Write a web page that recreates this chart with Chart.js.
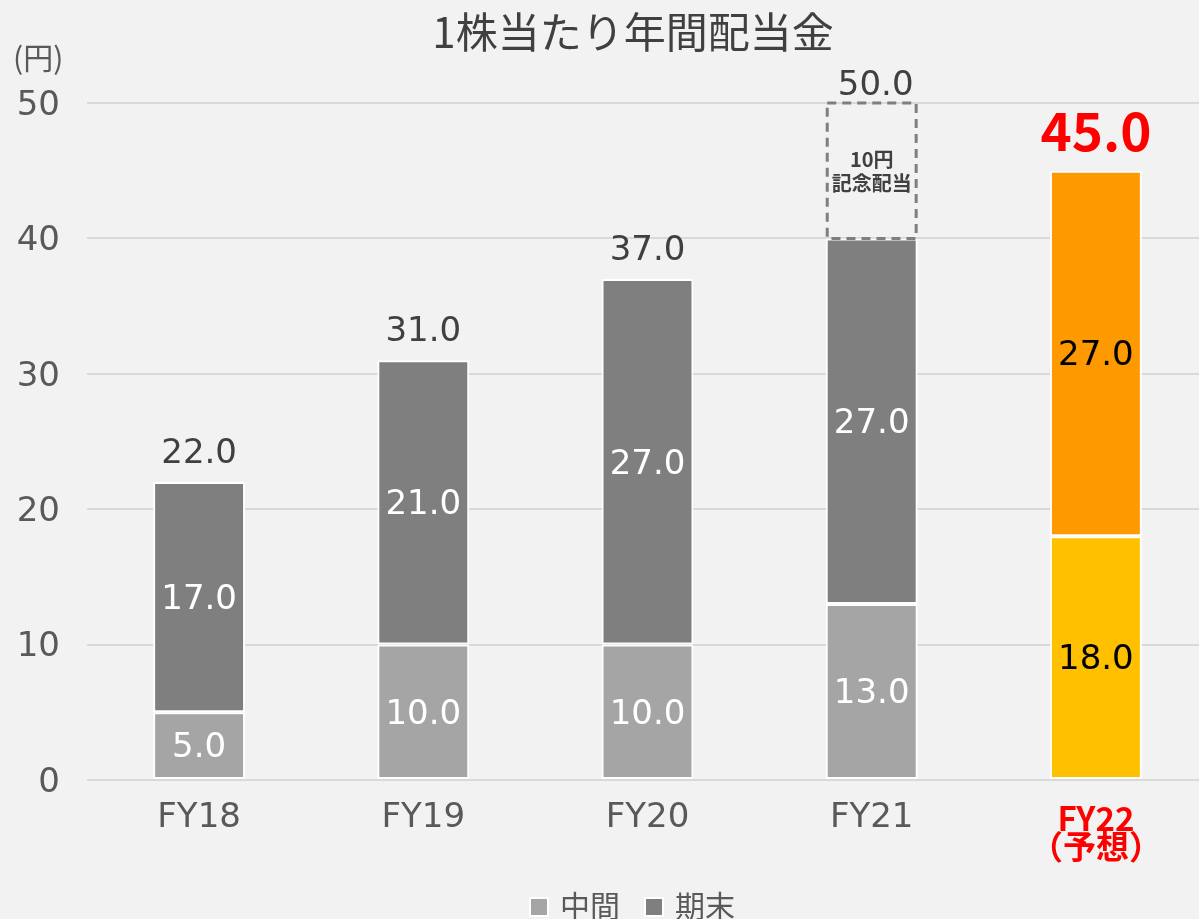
<!DOCTYPE html>
<html>
<head>
<meta charset="utf-8">
<script src="https://cdn.jsdelivr.net/npm/chart.js@4.4.1/dist/chart.umd.min.js"></script>
<style>
  html, body { margin: 0; padding: 0; background: #f2f2f2; overflow: hidden; }
  #wrap { width: 1208px; height: 919px; }
</style>
</head>
<body>
<div id="wrap"><canvas id="chart" width="1208" height="919"></canvas></div>
<script>
const FONT = '"DejaVu Sans", "Noto Sans CJK JP", sans-serif'
const JP = '"Noto Sans CJK JP", sans-serif'

const years = ['FY18', 'FY19', 'FY20', 'FY21', ['FY22', '（予想）']]
const interim = [5, 10, 10, 13, 18]
const yearEnd = [17, 21, 27, 27, 27]
const commemorative = [null, null, null, 10, null]
const yTicks = [0, 10, 20, 30, 40, 50]

const seriesNames = ['中間', '期末']
const grayLight = '#a5a5a5'
const grayDark = '#7f7f7f'
const forecastLight = '#ffc000'
const forecastDark = '#ff9900'

const colorsFor = (plain, forecast) => years.map((y, i) => (i === 4 ? forecast : plain))

// totals, labels, dashed box, title and legend
const decorations = {
  id: 'decorations',
  afterDatasetsDraw(chart) {
    const ctx = chart.ctx
    const m0 = chart.getDatasetMeta(0).data
    const m1 = chart.getDatasetMeta(1).data
    const m2 = chart.getDatasetMeta(2).data
    ctx.save()
    ctx.textAlign = 'center'
    ctx.textBaseline = 'middle'

    // values inside the segments
    ctx.font = `34px ${FONT}`
    ;[[m0, interim], [m1, yearEnd]].forEach(([els, vals]) => {
      els.forEach((el, i) => {
        ctx.fillStyle = i === 4 ? '#000000' : '#ffffff'
        ctx.fillText(vals[i].toFixed(1), el.x, (el.y + el.base) / 2 + 3)
      })
    })

    // dashed box for the commemorative dividend
    const box = m2[3]
    ctx.strokeStyle = '#7f7f7f'
    ctx.lineWidth = 3
    ctx.setLineDash([9, 6])
    ctx.strokeRect(box.x - box.width / 2 + 1.5, box.y, box.width - 3, box.base - box.y)
    ctx.setLineDash([])
    ctx.fillStyle = '#404040'
    ctx.font = `bold 20px ${JP}`
    ctx.fillText('10円', box.x, 159)
    ctx.fillText('記念配当', box.x, 183)

    // totals above the bars
    years.forEach((y, i) => {
      const total = interim[i] + yearEnd[i] + (commemorative[i] || 0)
      const top = commemorative[i] ? m2[i].y : m1[i].y
      if (i === 4) {
        ctx.fillStyle = '#ff0000'
        ctx.font = `bold 53px ${JP}`
        ctx.fillText(total.toFixed(1), m1[i].x, top - 40)
      } else {
        ctx.fillStyle = '#404040'
        ctx.font = `34px ${FONT}`
        ctx.fillText(total.toFixed(1), m1[i].x + (commemorative[i] ? 4 : 0), top - (commemorative[i] ? 17 : 28))
      }
    })

    // title and unit
    ctx.fillStyle = '#404040'
    ctx.font = `42px ${JP}`
    ctx.fillText('1株当たり年間配当金', 633, 32)
    ctx.fillStyle = '#595959'
    ctx.font = `30px ${JP}`
    ctx.textAlign = 'left'
    ctx.fillText('(円)', 13, 58)

    // legend
    const items = [[seriesNames[0], grayLight, 530], [seriesNames[1], grayDark, 645]]
    ctx.font = `30px ${JP}`
    items.forEach(([name, color, x]) => {
      ctx.fillStyle = '#ffffff'
      ctx.fillRect(x - 1, 897, 20, 20)
      ctx.fillStyle = color
      ctx.fillRect(x + 1, 899, 16, 16)
      ctx.fillStyle = '#595959'
      ctx.fillText(name, x + 30, 906)
    })
    ctx.restore()
  },
}

new Chart(document.getElementById('chart'), {
  type: 'bar',
  data: {
    labels: years,
    datasets: [
      {
        label: seriesNames[0],
        data: interim,
        backgroundColor: colorsFor(grayLight, forecastLight),
        borderColor: '#ffffff',
        borderWidth: 2,
        borderSkipped: false,
      },
      {
        label: seriesNames[1],
        data: yearEnd,
        backgroundColor: colorsFor(grayDark, forecastDark),
        borderColor: '#ffffff',
        borderWidth: 2,
        borderSkipped: false,
      },
      {
        label: '記念配当',
        data: commemorative,
        backgroundColor: 'rgba(0,0,0,0)',
        borderWidth: 0,
      },
    ],
  },
  options: {
    responsive: false,
    devicePixelRatio: 1,
    animation: false,
    layout: { padding: { top: 103, left: 0, right: 0, bottom: 0 } },
    datasets: { bar: { categoryPercentage: 1, barPercentage: 0.41 } },
    plugins: {
      legend: { display: false },
      title: { display: false },
      tooltip: { enabled: false },
    },
    scales: {
      x: {
        stacked: true,
        grid: { display: false },
        border: { display: false },
        afterFit: (scale) => { scale.height = 139 },
        ticks: {
          padding: 16,
          maxRotation: 0,
          color: (c) => (c.index === 4 ? '#ff0000' : '#595959'),
          font: (c) => (c.index === 4
            ? { family: JP, size: 33, weight: 'bold', lineHeight: 0.85 }
            : { family: FONT, size: 34, lineHeight: 0.85 }),
        },
      },
      y: {
        stacked: true,
        min: yTicks[0],
        max: yTicks[yTicks.length - 1],
        afterFit: (scale) => { scale.width = 87 },
        afterBuildTicks: (scale) => { scale.ticks = yTicks.map((v) => ({ value: v })) },
        grid: { color: '#d9d9d9', lineWidth: 2, drawTicks: false },
        border: { display: false },
        ticks: {
          padding: 27,
          labelOffset: 3,
          color: '#595959',
          font: { family: FONT, size: 34 },
        },
      },
    },
  },
  plugins: [decorations],
})
</script>
</body>
</html>
